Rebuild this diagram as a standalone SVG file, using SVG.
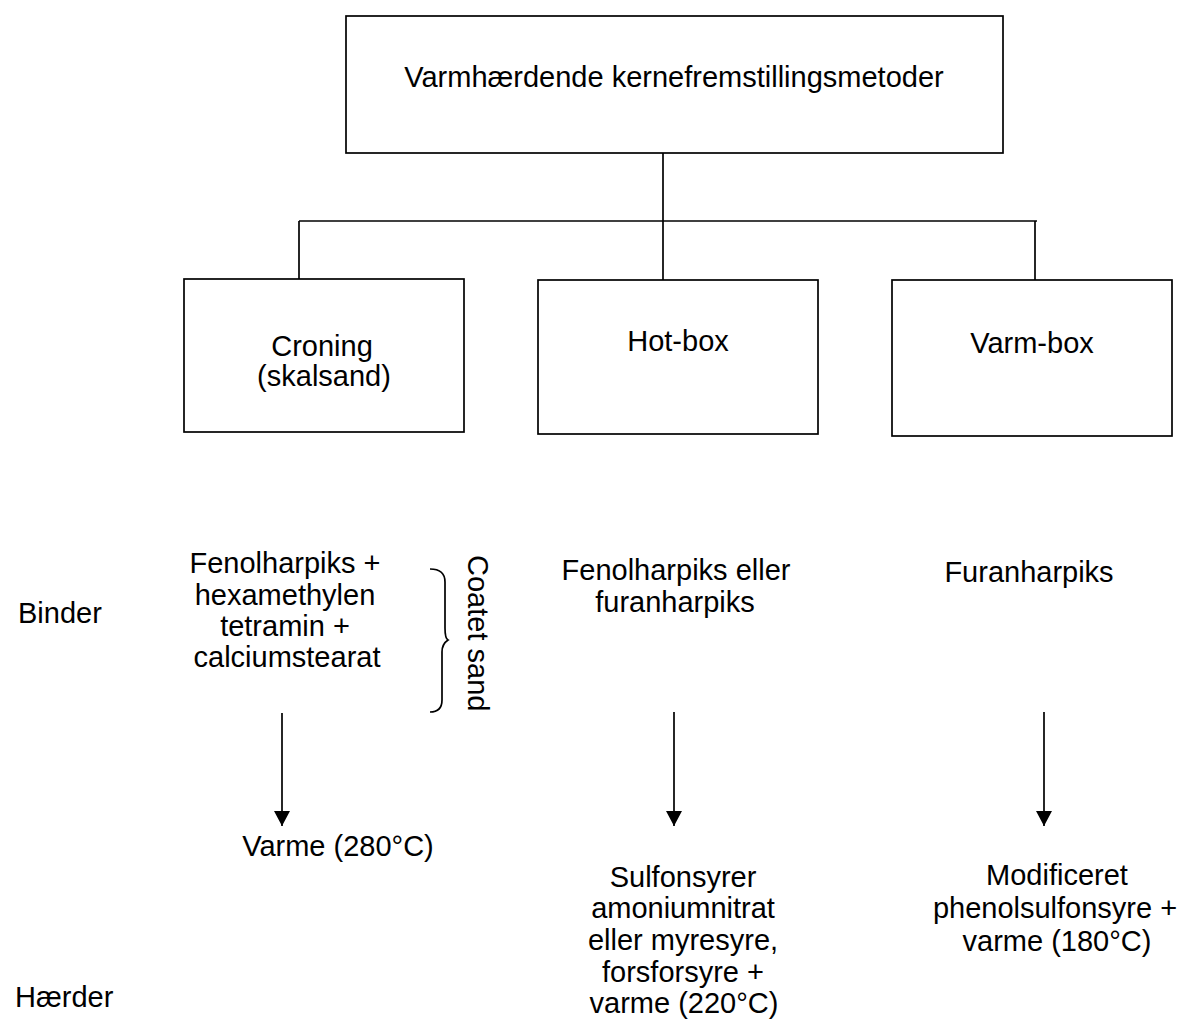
<svg xmlns="http://www.w3.org/2000/svg" width="1183" height="1026" viewBox="0 0 1183 1026">
  <style>
    .box { fill: #ffffff; stroke: #000000; stroke-width: 1.7; }
    .wire { fill: none; stroke: #000000; stroke-width: 1.7; }
    .lbl { font-family: "Liberation Sans", Arial, sans-serif; font-size: 29px; fill: #000000; }
    .mid { text-anchor: middle; }
  </style>
  <defs>
    <marker id="head" viewBox="0 0 15 16" markerWidth="15" markerHeight="16" refX="15" refY="8" orient="auto" markerUnits="userSpaceOnUse">
      <path d="M0,0 L15,8 L0,16 z" fill="#000000"/>
    </marker>
  </defs>

  <rect width="1183" height="1026" fill="#ffffff"/>

  <!-- tree connectors and arrows -->
  <g id="connectors">
    <line class="wire" x1="663" y1="153" x2="663" y2="280"/>
    <line class="wire" x1="299" y1="221" x2="1037" y2="221"/>
    <line class="wire" x1="299" y1="221" x2="299" y2="283"/>
    <line class="wire" x1="1035" y1="221" x2="1035" y2="285"/>
    <line class="wire" x1="282" y1="713" x2="282" y2="826" marker-end="url(#head)"/>
    <line class="wire" x1="674" y1="712" x2="674" y2="826" marker-end="url(#head)"/>
    <line class="wire" x1="1044" y1="712" x2="1044" y2="826" marker-end="url(#head)"/>
  </g>

  <g id="root">
    <rect class="box" x="346" y="16" width="657" height="137"/>
    <text class="lbl mid" x="674" y="87">Varmhærdende kernefremstillingsmetoder</text>
  </g>

  <g id="croning">
    <rect class="box" x="184" y="279" width="280" height="153"/>
    <text class="lbl mid" x="322" y="356">Croning</text>
    <text class="lbl mid" x="324" y="386">(skalsand)</text>
  </g>

  <g id="hotbox">
    <rect class="box" x="538" y="280" width="280" height="154"/>
    <text class="lbl mid" x="678" y="351">Hot-box</text>
  </g>

  <g id="varmbox">
    <rect class="box" x="892" y="280" width="280" height="156"/>
    <text class="lbl mid" x="1032" y="353">Varm-box</text>
  </g>

  <!-- row labels -->
  <g id="row-labels">
    <text class="lbl" x="18" y="623">Binder</text>
    <text class="lbl" x="15" y="1007">Hærder</text>
  </g>

  <g id="binder-croning">
    <text class="lbl mid" x="285" y="573">Fenolharpiks +</text>
    <text class="lbl mid" x="285" y="605">hexamethylen</text>
    <text class="lbl mid" x="285" y="636">tetramin +</text>
    <text class="lbl mid" x="287" y="667">calciumstearat</text>
    <path class="wire" d="M430,569 C440,569 445,573 445,582 L445,628 C445,636 446,639 448,640 C445,642 442,645 442,652 L442,700 C442,708 438,712 430,712"/>
    <text class="lbl" transform="translate(468,555) rotate(90)">Coatet sand</text>
  </g>

  <g id="binder-hotbox">
    <text class="lbl mid" x="676" y="580">Fenolharpiks eller</text>
    <text class="lbl mid" x="675" y="612">furanharpiks</text>
  </g>

  <g id="binder-varmbox">
    <text class="lbl mid" x="1029" y="582">Furanharpiks</text>
  </g>

  <g id="haerder-croning">
    <text class="lbl mid" x="338" y="856">Varme (280°C)</text>
  </g>

  <g id="haerder-hotbox">
    <text class="lbl mid" x="683" y="887">Sulfonsyrer</text>
    <text class="lbl mid" x="683" y="918">amoniumnitrat</text>
    <text class="lbl mid" x="683" y="950">eller myresyre,</text>
    <text class="lbl mid" x="683" y="982">forsforsyre +</text>
    <text class="lbl mid" x="684" y="1013">varme (220°C)</text>
  </g>

  <g id="haerder-varmbox">
    <text class="lbl mid" x="1057" y="885">Modificeret</text>
    <text class="lbl mid" x="1055" y="918">phenolsulfonsyre +</text>
    <text class="lbl mid" x="1057" y="951">varme (180°C)</text>
  </g>
</svg>
